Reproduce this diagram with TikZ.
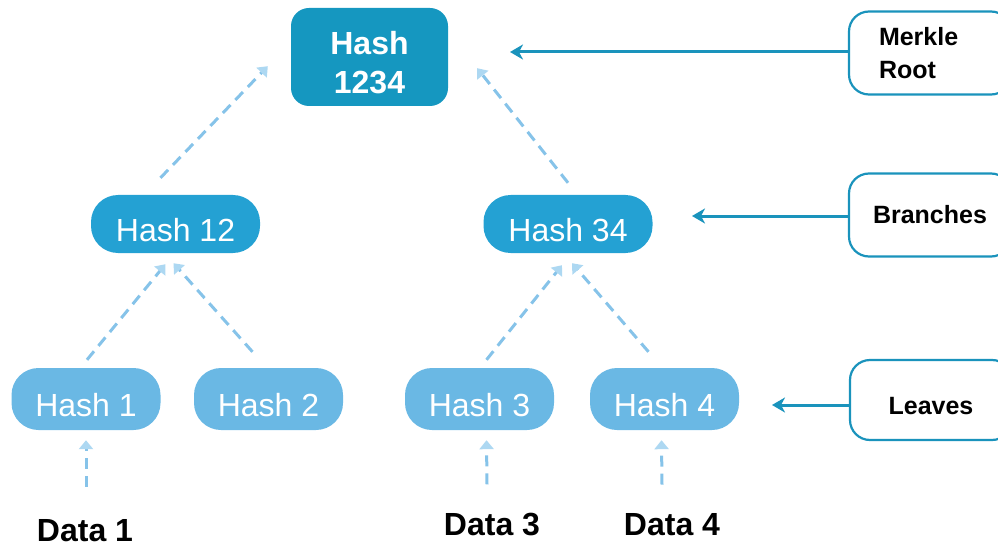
\documentclass[tikz,border=0pt]{standalone}
\usepackage{fontspec}
\setmainfont{Liberation Sans}
\usetikzlibrary{arrows.meta,calc}
\definecolor{rootc}{HTML}{1597C0}
\definecolor{branchc}{HTML}{24A1D3}
\definecolor{leafc}{HTML}{6AB8E4}
\definecolor{dashc}{HTML}{86C3E9}
\definecolor{tipc}{HTML}{ADD8F2}
\definecolor{linec}{HTML}{1A93BC}
\tikzset{
  hashbox/.style={inner sep=0pt, text=white, font=\fontsize{32}{39}\selectfont, text height=35pt, text depth=0pt},
  rootbox/.style={inner sep=0pt, text=white, fill=rootc, rounded corners=18pt, minimum width=157pt, minimum height=98pt, font=\bfseries\fontsize{32}{39}\selectfont, align=center},
  branchbox/.style={hashbox, fill=branchc, rounded corners=27pt, minimum width=169pt, minimum height=58pt},
  leafbox/.style={hashbox, fill=leafc, rounded corners=27pt, minimum width=149pt, minimum height=62pt},
  sidebox/.style={draw=linec, line width=2.2pt, fill=white, rounded corners=20pt, minimum width=162pt, minimum height=83pt, inner sep=0pt, font=\bfseries\fontsize{25}{33}\selectfont, text=black},
  datalabel/.style={inner sep=0pt, font=\bfseries\fontsize{32}{39}\selectfont, text=black},
  dasharrow/.style={draw=dashc, line width=3pt, dash pattern=on 11pt off 7pt, -{Triangle[length=9pt,width=14pt,fill=tipc,color=tipc]}},
  sidearrow/.style={draw=linec, line width=3pt, -{Stealth[length=13pt,width=15pt,inset=4pt]}}
}
\begin{document}
\begin{tikzpicture}[x=1pt,y=-1pt]
\clip (0,0) rectangle (998,548);
\useasboundingbox (0,0) rectangle (998,548);
% tree nodes
\node[rootbox] (root) at (369.5,57) {\rule{0pt}{35pt}Hash\\1234};
\node[branchbox] (h12) at (175.5,224) {Hash 12};
\node[branchbox] (h34) at (568,224) {Hash 34};
\node[leafbox] (h1) at (86,399) {Hash 1};
\node[leafbox] (h2) at (268.5,399) {Hash 2};
\node[leafbox] (h3) at (479.5,399) {Hash 3};
\node[leafbox] (h4) at (664.5,399) {Hash 4};
% data labels
\node[datalabel] (d1) at (85,531) {Data 1};
\node[datalabel] (d3) at (492,525) {Data 3};
\node[datalabel] (d4) at (672,525) {Data 4};
% side boxes
\node[sidebox, text width=102pt, align=left] (mr) at (930,53) {Merkle\\Root};
\node[sidebox] (br) at (930,215) {Branches};
\node[sidebox, minimum height=80pt, text height=28pt, text depth=0pt] (lv) at (931,400) {Leaves};
% side arrow ends
\coordinate (mrend) at (510,52);
\coordinate (brend) at (692,216);
\coordinate (lvend) at (772,405);
\draw[sidearrow] (mr.west |- mrend) -- (mrend);
\draw[sidearrow] (br.west |- brend) -- (brend);
\draw[sidearrow] (lv.west |- lvend) -- (lvend);
% dashed arrows
\draw[dasharrow] ($(h12.north)+(-15,-17)$) -- ($(root.south west)+(-23,-40)$);
\draw[dasharrow] ($(h34.north)+(0,-12)$) -- ($(root.south east)+(29,-38)$);
\draw[dasharrow] ($(h1.north)+(1,-8)$) -- ($(h12.south)+(-10,11)$);
\draw[dasharrow] ($(h2.north)+(-16,-16)$) -- ($(h12.south)+(-2,10)$);
\draw[dasharrow] ($(h3.north)+(7,-8)$) -- ($(h34.south)+(-6,12)$);
\draw[dasharrow] ($(h4.north)+(-16,-16)$) -- ($(h34.south)+(4,10)$);
\draw[dasharrow] ($(d1.north)+(1,-33)$) -- ($(h1.south)+(0,10)$);
\draw[dasharrow] ($(d3.north)+(-5,-29)$) -- ($(h3.south)+(7,10)$);
\draw[dasharrow] ($(d4.north)+(-10,-29)$) -- ($(h4.south)+(-3,10)$);
\end{tikzpicture}
\end{document}
